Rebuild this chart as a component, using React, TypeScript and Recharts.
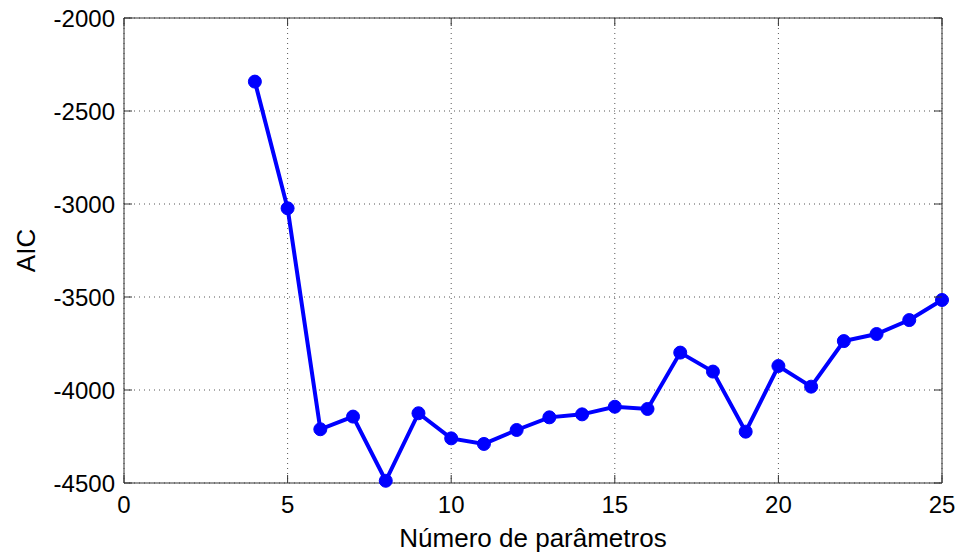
import { LineChart, Line, XAxis, YAxis, CartesianGrid } from 'recharts';

// AIC vs number of parameters
const parameterCounts = [4, 5, 6, 7, 8, 9, 10, 11, 12, 13, 14, 15, 16, 17, 18, 19, 20, 21, 22, 23, 24, 25];
const aicValues = [
  -2342, -3023, -4211, -4143, -4488, -4125, -4260, -4290, -4215, -4147, -4131,
  -4090, -4102, -3799, -3901, -4224, -3871, -3982, -3737, -3699, -3624, -3516,
];
const xTicks = [0, 5, 10, 15, 20, 25];
const yTicks = [-4500, -4000, -3500, -3000, -2500, -2000];

const FONT = '"Liberation Sans", Arial, sans-serif';
const AXIS_COLOR = '#333';
const TICK_LEN = 8;
const X_GAP = 13;
const Y_GAP = 9;

const chartData = parameterCounts.map((n, i) => ({ n, aic: aicValues[i] }));

const BottomTick = (props: any) => {
  const { x, y, payload } = props;
  const axisY = y - X_GAP;
  return (
    <g>
      <line x1={x} x2={x} y1={axisY} y2={axisY - TICK_LEN} stroke={AXIS_COLOR} />
      <text x={x} y={y} dy="0.71em" textAnchor="middle" fontSize={24} fontFamily={FONT} fill="#000">
        {payload.value}
      </text>
    </g>
  );
};

const LeftTick = (props: any) => {
  const { x, y, payload } = props;
  const axisX = x + Y_GAP;
  return (
    <g>
      <line x1={axisX} x2={axisX + TICK_LEN} y1={y} y2={y} stroke={AXIS_COLOR} />
      <text x={x} y={y} dy="0.355em" textAnchor="end" fontSize={24} fontFamily={FONT} fill="#000">
        {payload.value}
      </text>
    </g>
  );
};

// top / right axes: only the inward tick marks, no labels
const TopTick = (props: any) => {
  const { x, y } = props;
  return <line x1={x} x2={x} y1={y} y2={y + TICK_LEN} stroke={AXIS_COLOR} />;
};

const RightTick = (props: any) => {
  const { x, y } = props;
  return <line x1={x} x2={x - TICK_LEN} y1={y} y2={y} stroke={AXIS_COLOR} />;
};

const XLabel = (props: any) => {
  const { x, y, width } = props.viewBox;
  return (
    <text x={x + width / 2} y={y + 64} textAnchor="middle" fontSize={26} fontFamily={FONT} fill="#000">
      Número de parâmetros
    </text>
  );
};

const YLabel = (props: any) => {
  const { x, y, height } = props.viewBox;
  const cx = x + 26;
  const cy = y + height / 2;
  return (
    <text
      x={cx}
      y={cy}
      transform={`rotate(-90, ${cx}, ${cy})`}
      textAnchor="middle"
      dominantBaseline="central"
      fontSize={26}
      fontFamily={FONT}
      fill="#000"
    >
      AIC
    </text>
  );
};

export default function App() {
  return (
    <div style={{ position: 'absolute', left: 0, top: 0, background: '#fff' }}>
      <LineChart width={957} height={554} data={chartData} margin={{ top: 17, right: 14, bottom: 0, left: 0 }}>
        <CartesianGrid stroke="#555" strokeDasharray="1 4" />
        <XAxis
          dataKey="n"
          type="number"
          domain={[0, 25]}
          ticks={xTicks}
          height={71}
          tickSize={0}
          tickMargin={X_GAP}
          tick={<BottomTick />}
          tickLine={false}
          axisLine={{ stroke: AXIS_COLOR }}
          label={<XLabel />}
        />
        <XAxis
          xAxisId="top"
          dataKey="n"
          orientation="top"
          type="number"
          domain={[0, 25]}
          ticks={xTicks}
          height={1}
          tickSize={0}
          tickMargin={0}
          tick={<TopTick />}
          tickLine={false}
          axisLine={{ stroke: AXIS_COLOR }}
        />
        <YAxis
          type="number"
          domain={[-4500, -2000]}
          ticks={yTicks}
          width={124}
          tickSize={0}
          tickMargin={Y_GAP}
          tick={<LeftTick />}
          tickLine={false}
          axisLine={{ stroke: AXIS_COLOR }}
          label={<YLabel />}
        />
        <YAxis
          yAxisId="right"
          orientation="right"
          type="number"
          domain={[-4500, -2000]}
          ticks={yTicks}
          width={1}
          tickSize={0}
          tickMargin={0}
          tick={<RightTick />}
          tickLine={false}
          axisLine={{ stroke: AXIS_COLOR }}
        />
        {/* invisible series tied to the box axes (top/right) */}
        <Line
          xAxisId="top"
          yAxisId="right"
          dataKey="aic"
          stroke="none"
          dot={false}
          activeDot={false}
          isAnimationActive={false}
        />
        <Line
          dataKey="aic"
          stroke="#0000ff"
          strokeWidth={4}
          dot={{ r: 6.5, fill: '#0000ff', stroke: '#0000ff', strokeWidth: 1 }}
          isAnimationActive={false}
        />
      </LineChart>
    </div>
  );
}
